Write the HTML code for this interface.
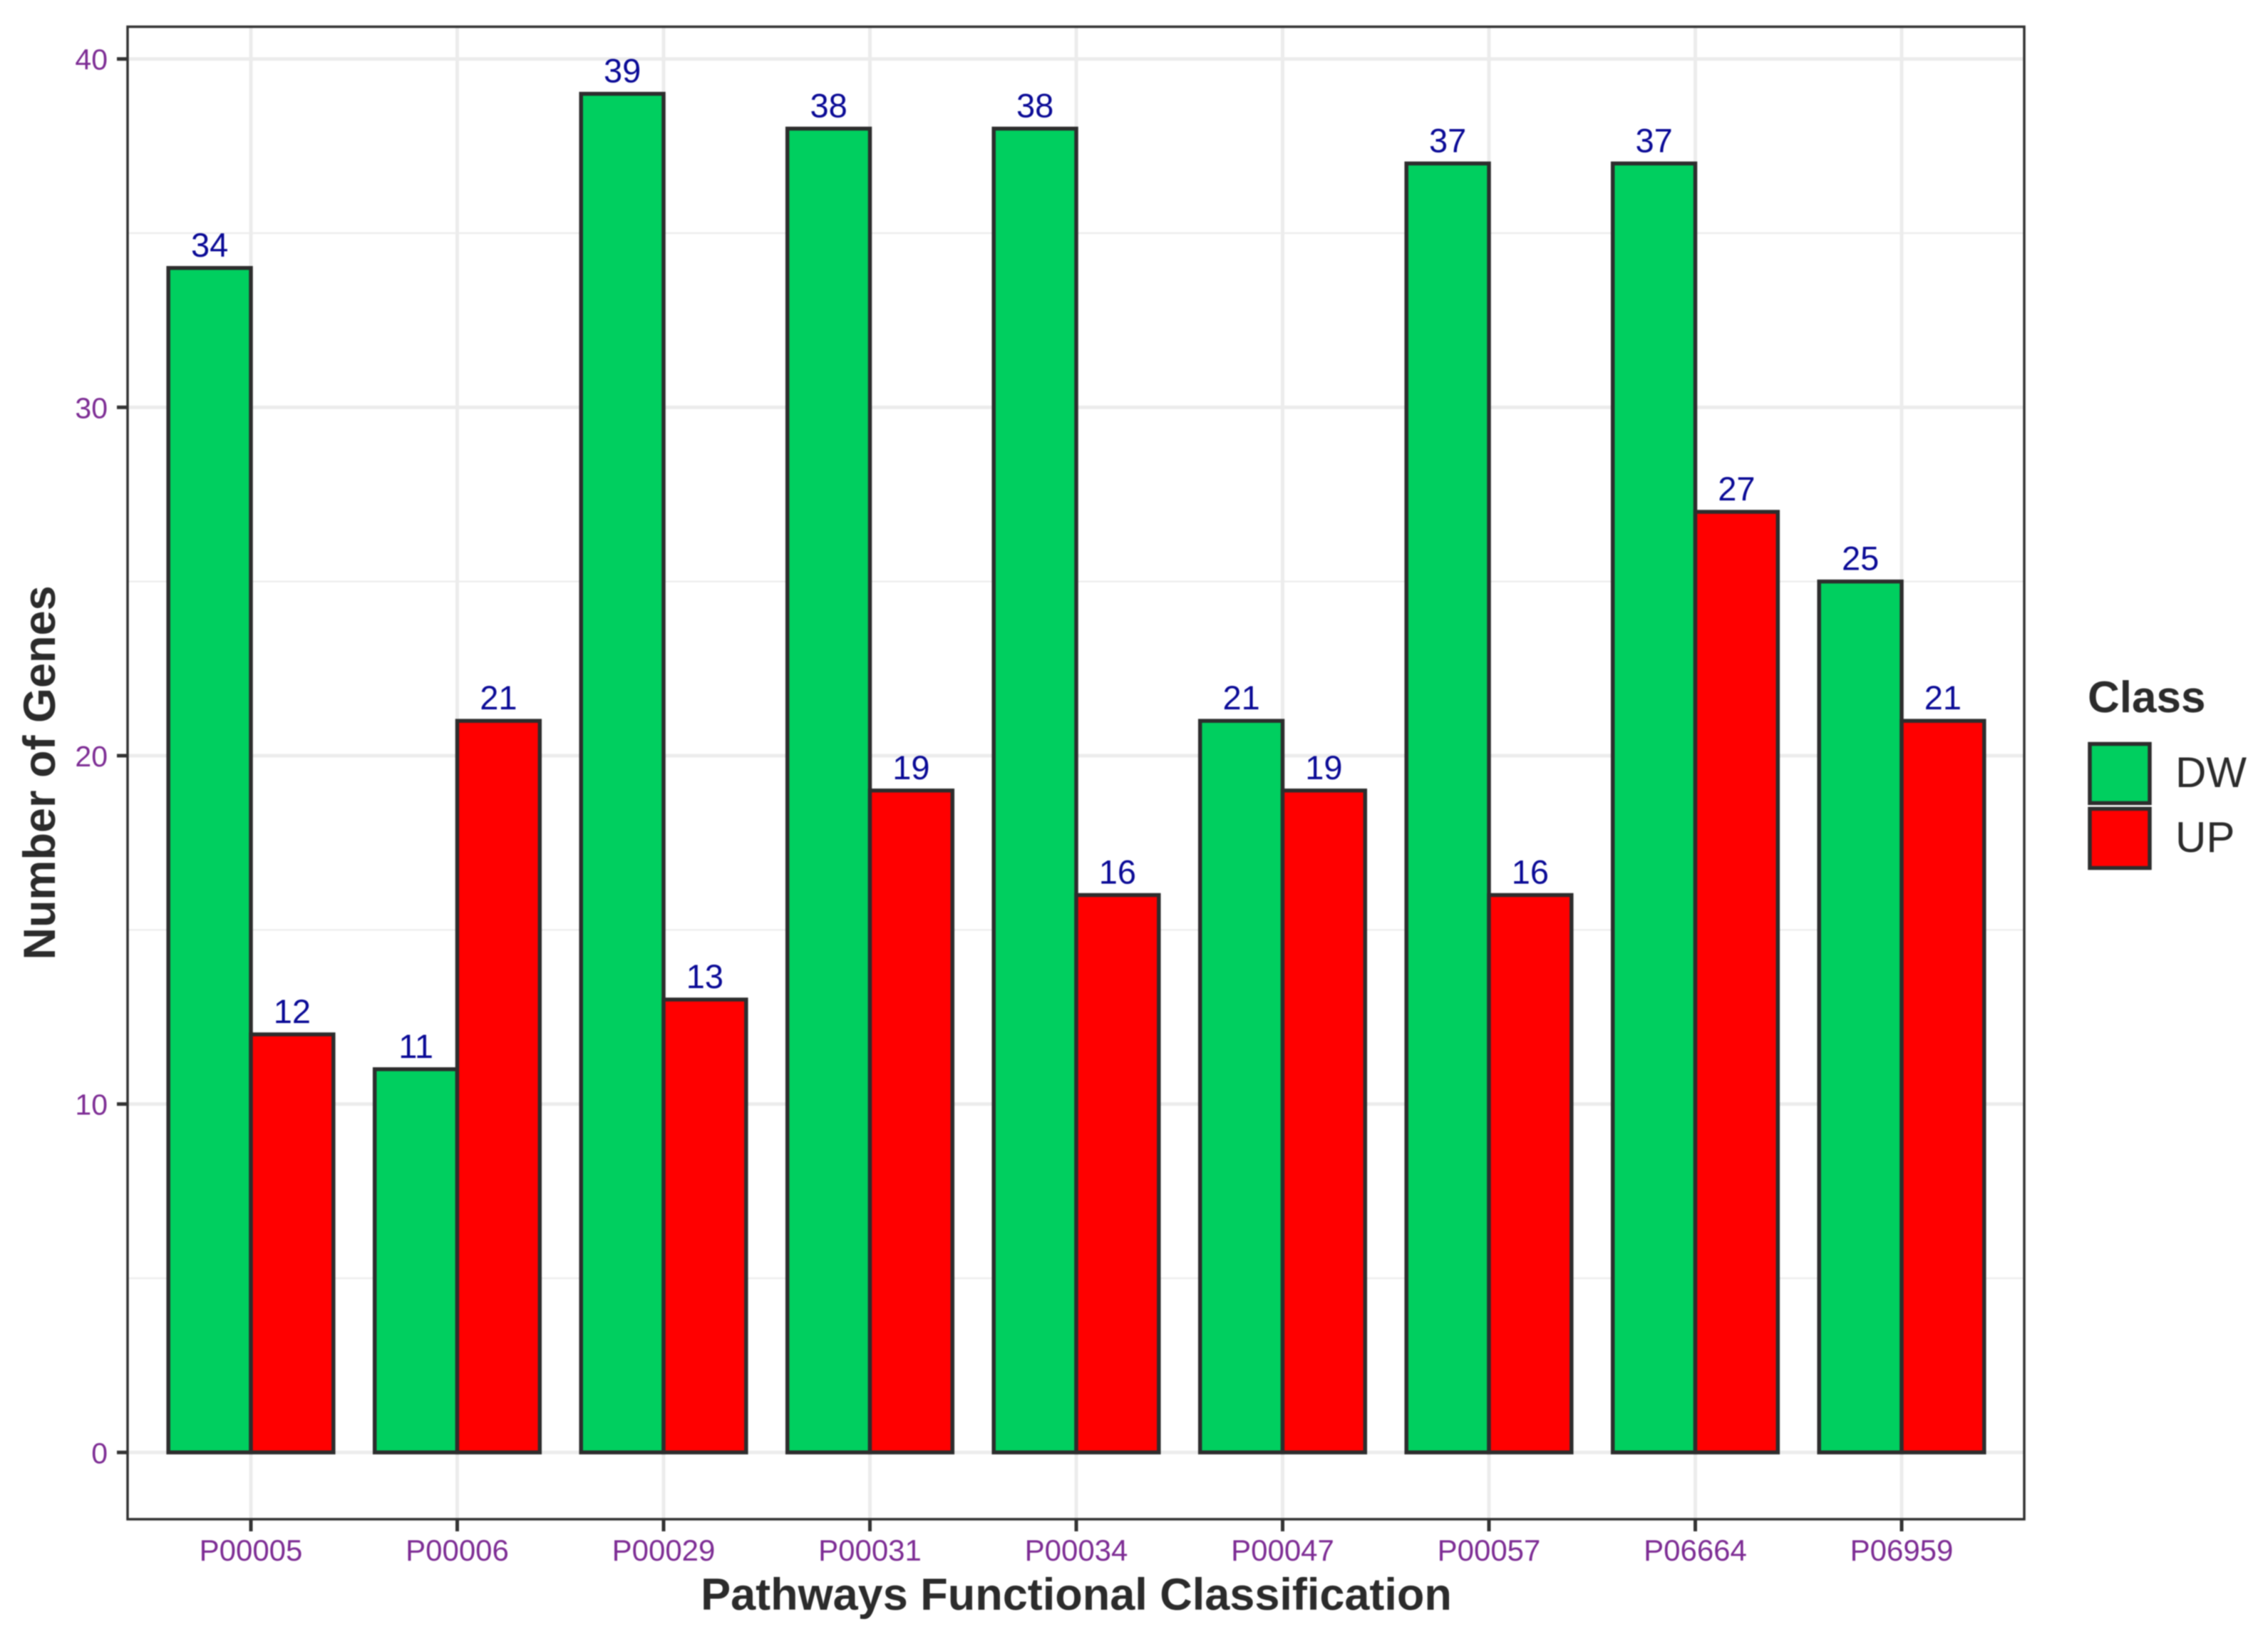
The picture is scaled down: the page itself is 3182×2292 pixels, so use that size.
<!DOCTYPE html>
<html>
<head>
<meta charset="utf-8">
<title>Pathways Functional Classification</title>
<style>
html,body{margin:0;padding:0;background:#fff;}
body{width:3182px;height:2292px;overflow:hidden;}
svg{display:block;font-family:"Liberation Sans",Arial,sans-serif;filter:blur(0.8px);}
</style>
</head>
<body>
<svg id="chart" xmlns="http://www.w3.org/2000/svg" width="3182" height="2292" viewBox="0 0 3182 2292">
  <rect x="0" y="0" width="3182" height="2292" fill="#ffffff"/>
  <g id="grid"></g>
  <g id="bars"></g>
  <g id="values"></g>
  <rect id="panel" x="179" y="37.5" width="2661" height="2093.5" fill="none" stroke="#333333" stroke-width="3.5"/>
  <g id="axes"></g>
  <text x="1510" y="2258" font-size="63" font-weight="700" fill="#2b2b2b" text-anchor="middle">Pathways Functional Classification</text>
  <text transform="translate(77 1084) rotate(-90)" font-size="63" font-weight="700" fill="#2b2b2b" text-anchor="middle">Number of Genes</text>
  <g>
    <text x="2929" y="999" font-size="62" font-weight="700" fill="#2b2b2b">Class</text>
    <rect x="2932" y="1043.5" width="84" height="83" fill="#00cf5f" stroke="#2d2d2d" stroke-width="5.5"/>
    <rect x="2932" y="1134.5" width="84" height="83" fill="#ff0000" stroke="#2d2d2d" stroke-width="5.5"/>
    <text x="3052" y="1104" font-size="60" fill="#2b2b2b">DW</text>
    <text x="3052" y="1195" font-size="60" fill="#2b2b2b">UP</text>
  </g>
</svg>
<script>
var categories = ["P00005","P00006","P00029","P00031","P00034","P00047","P00057","P06664","P06959"];
var dwValues = [34,11,39,38,38,21,37,37,25];
var upValues = [12,21,13,19,16,19,16,27,21];
var majorTicks = [0,10,20,30,40];
var minorTicks = [5,15,25,35];

var NS = "http://www.w3.org/2000/svg";
var PANEL_LEFT = 180, PANEL_RIGHT = 2839, PANEL_TOP = 39, PANEL_BOTTOM = 2130;
function xScale(i){ return 352 + (2668 - 352) * i / (categories.length - 1); }
function yScale(v){ return 2037.3 - (2037.3 - 82.7) * v / 40; }
var step = (2668 - 352) / (categories.length - 1);
var barWidth = step * 0.8 / 2;

function make(tag, parent, attrs, text){
  var el = document.createElementNS(NS, tag);
  for (var k in attrs) el.setAttribute(k, attrs[k]);
  if (text !== undefined) el.textContent = text;
  parent.appendChild(el);
  return el;
}
var grid = document.getElementById("grid");
var bars = document.getElementById("bars");
var valuesG = document.getElementById("values");
var axes = document.getElementById("axes");

minorTicks.forEach(function(v){
  var el = make("line", grid, {x1:PANEL_LEFT,x2:PANEL_RIGHT,y1:yScale(v),y2:yScale(v),stroke:"#eeeeee","stroke-width":2.5});
  
  
});
majorTicks.forEach(function(v){
  var el = make("line", grid, {x1:PANEL_LEFT,x2:PANEL_RIGHT,y1:yScale(v),y2:yScale(v),stroke:"#ececec","stroke-width":5});
  
  
  var tick = make("line", axes, {x1:164,x2:PANEL_LEFT,y1:yScale(v),y2:yScale(v),stroke:"#333333","stroke-width":5});
  
  
  var lab = make("text", axes, {x:151,y:yScale(v)+15,"font-size":41,fill:"#7d2c94","text-anchor":"end"}, String(v));
  
  
});
categories.forEach(function(c,i){
  var cx = xScale(i);
  var gl = make("line", grid, {x1:cx,x2:cx,y1:PANEL_TOP,y2:PANEL_BOTTOM,stroke:"#ececec","stroke-width":5});
  
  

  var dw = make("rect", bars, {x:cx-barWidth,y:yScale(dwValues[i]),width:barWidth,height:yScale(0)-yScale(dwValues[i]),fill:"#00cf5f",stroke:"#2d2d2d","stroke-width":5.5});
  
  
  var up = make("rect", bars, {x:cx,y:yScale(upValues[i]),width:barWidth,height:yScale(0)-yScale(upValues[i]),fill:"#ff0000",stroke:"#2d2d2d","stroke-width":5.5});
  
  

  var dwLab = make("text", valuesG, {x:cx-barWidth/2,y:yScale(dwValues[i])-16,"font-size":47,fill:"#0a0a96","text-anchor":"middle"}, String(dwValues[i]));
  
  
  var upLab = make("text", valuesG, {x:cx+barWidth/2,y:yScale(upValues[i])-16,"font-size":47,fill:"#0a0a96","text-anchor":"middle"}, String(upValues[i]));
  
  

  var tick = make("line", axes, {x1:cx,x2:cx,y1:PANEL_BOTTOM,y2:2148,stroke:"#333333","stroke-width":5});
  
  
  var lab = make("text", axes, {x:cx,y:2189,"font-size":42,fill:"#7d2c94","text-anchor":"middle"}, c);
  
  
});
</script>
</body>
</html>
